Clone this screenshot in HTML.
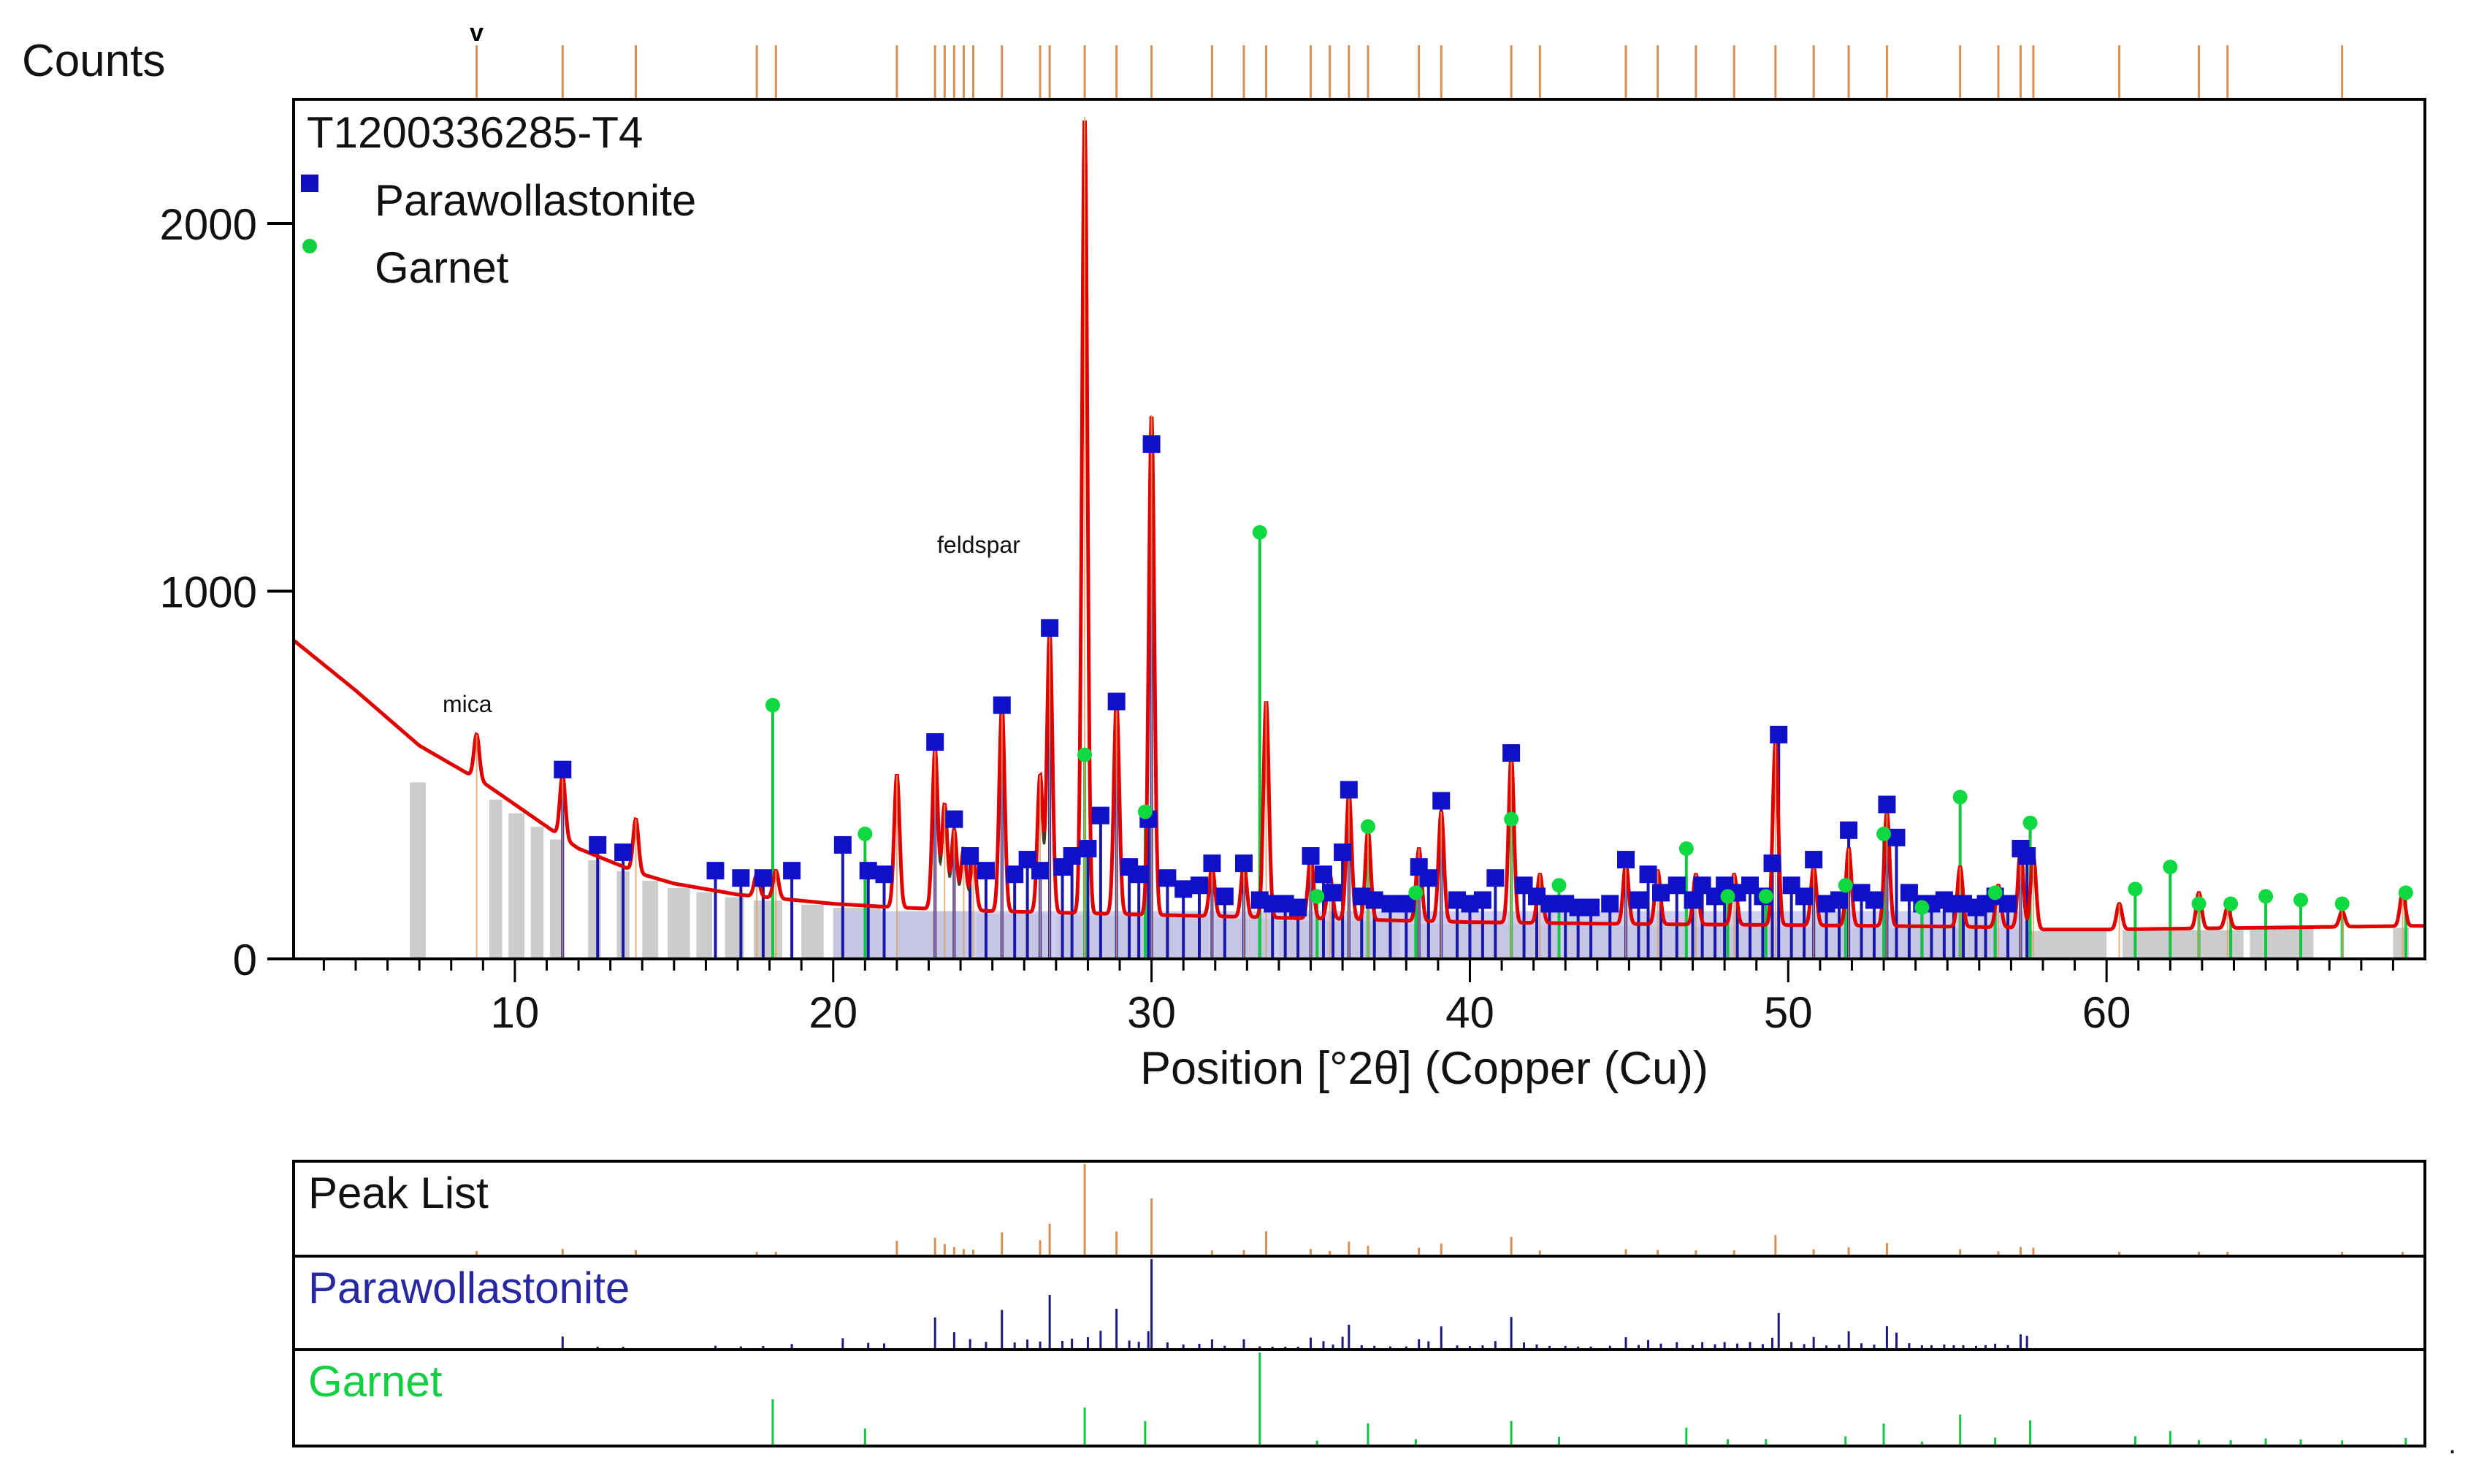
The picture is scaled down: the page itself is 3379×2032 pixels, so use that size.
<!DOCTYPE html>
<html><head><meta charset="utf-8"><style>
html,body{margin:0;padding:0;background:#fff;}
svg{display:block;font-family:"Liberation Sans",sans-serif;}
</style></head><body>
<svg id="chart" width="3379" height="2032" viewBox="0 0 3379 2032" xmlns="http://www.w3.org/2000/svg">
<rect x="0" y="0" width="3379" height="2032" fill="#fff"/>
<g id="marks"></g>
<text x="30" y="104" font-size="62" fill="#111">Counts</text>
<text x="420" y="202" font-size="60" fill="#111">T1200336285-T4</text>
<rect x="412" y="239" width="24" height="24" fill="#1010c0"/>
<text x="513" y="295" font-size="60" fill="#111">Parawollastonite</text>
<circle cx="424" cy="337" r="10" fill="#10d040"/>
<text x="513" y="387" font-size="60" fill="#111">Garnet</text>
<text x="606" y="975" font-size="32" fill="#111">mica</text>
<text x="1283" y="757" font-size="32" fill="#111">feldspar</text>
<text x="1950" y="1484" font-size="63" fill="#111" text-anchor="middle">Position [°2θ] (Copper (Cu))</text>
<text x="422" y="1654" font-size="60" fill="#111">Peak List</text>
<text x="422" y="1784" font-size="60" fill="#2828a0">Parawollastonite</text>
<text x="422" y="1912" font-size="60" fill="#10d040">Garnet</text>
<text x="3352" y="1990" font-size="40" fill="#111">.</text>
</svg>
<script>
// ---- data ----
const bgX = [3, 5, 7, 9, 10, 12, 14, 15, 17, 20, 22, 25, 30, 35, 40, 45, 50, 55, 57.5, 58, 60, 65, 70];
const bgY = [870, 730, 580, 480, 420, 300, 230, 205, 175, 150, 140, 130, 120, 110, 100, 95, 92, 88, 85, 80, 80, 85, 90];
const peakPos = [8.8, 11.5, 13.8, 17.6, 18.2, 22.0, 23.2, 23.5, 23.8, 24.1, 24.4, 25.3, 26.5, 26.8, 27.9, 28.9, 30.0, 31.9, 32.9, 33.6, 35.0, 35.6, 36.2, 36.8, 38.4, 39.1, 41.3, 42.2, 44.9, 45.9, 47.1, 48.3, 49.6, 50.8, 51.9, 53.1, 55.4, 56.6, 57.3, 57.7, 60.4, 62.9, 63.8, 67.4, 69.3];
const peakCounts = [610, 500, 380, 230, 240, 500, 570, 420, 350, 300, 280, 690, 500, 890, 2290, 700, 1480, 250, 260, 700, 280, 230, 450, 350, 300, 400, 550, 230, 260, 240, 230, 230, 590, 250, 300, 400, 250, 200, 300, 280, 150, 180, 140, 130, 180];
const paraPos = [11.5, 12.6, 13.4, 16.3, 17.1, 17.8, 18.7, 20.3, 21.1, 21.6, 23.2, 23.8, 24.3, 24.8, 25.3, 25.7, 26.1, 26.5, 26.8, 27.2, 27.5, 28.0, 28.4, 28.9, 29.3, 29.6, 29.9, 30.0, 30.5, 31.0, 31.5, 31.9, 32.3, 32.9, 33.4, 33.8, 34.2, 34.6, 35.0, 35.4, 35.7, 36.0, 36.2, 36.6, 37.0, 37.5, 38.0, 38.4, 38.7, 39.1, 39.6, 40.0, 40.4, 40.8, 41.3, 41.7, 42.1, 42.5, 43.0, 43.4, 43.8, 44.4, 44.9, 45.3, 45.6, 46.0, 46.5, 47.0, 47.3, 47.7, 48.0, 48.4, 48.8, 49.2, 49.5, 49.7, 50.1, 50.5, 50.8, 51.2, 51.6, 51.9, 52.3, 52.7, 53.1, 53.4, 53.8, 54.2, 54.5, 54.9, 55.2, 55.5, 55.9, 56.2, 56.5, 56.9, 57.3, 57.5];
const paraCounts = [515, 310, 290, 240, 220, 220, 240, 310, 240, 230, 590, 380, 280, 240, 690, 230, 270, 240, 900, 250, 280, 300, 390, 700, 250, 230, 380, 1400, 220, 190, 200, 260, 170, 260, 160, 150, 150, 140, 280, 230, 180, 290, 460, 170, 160, 150, 150, 250, 220, 430, 160, 150, 160, 220, 560, 200, 170, 150, 150, 140, 140, 150, 270, 160, 230, 180, 200, 160, 200, 170, 200, 180, 200, 170, 260, 610, 200, 170, 270, 150, 160, 350, 180, 160, 420, 330, 180, 150, 150, 160, 150, 150, 140, 150, 170, 150, 300, 280];
const garPos = [18.1, 21.0, 27.9, 29.8, 33.4, 35.2, 36.8, 38.3, 41.3, 42.8, 46.8, 48.1, 49.3, 51.8, 53.0, 54.2, 55.4, 56.5, 57.6, 60.9, 62.0, 62.9, 63.9, 65.0, 66.1, 67.4, 69.4];
const garCounts = [690, 340, 555, 400, 1160, 170, 360, 180, 380, 200, 300, 170, 170, 200, 340, 140, 440, 180, 370, 190, 250, 150, 150, 170, 160, 150, 180];
const greyStart = [6.7, 9.2, 9.8, 10.5, 11.1, 12.3, 13.2, 14.0, 14.8, 15.7, 16.6, 17.5, 19.0, 20.0, 22.0, 24.5, 27.0, 29.5, 32.0, 34.0, 38.0, 43.0, 47.0, 52.0, 57.5, 60.5, 64.5, 69.0];
const greyEnd = [7.2, 9.6, 10.3, 10.9, 11.5, 12.7, 13.6, 14.5, 15.5, 16.2, 17.2, 18.4, 19.7, 21.5, 24.2, 26.8, 29.3, 31.8, 33.8, 37.8, 42.8, 46.8, 51.8, 57.3, 60.0, 64.3, 66.5, 69.5];
const xTicks = [10, 20, 30, 40, 50, 60];
const yTicks = [0, 1000, 2000];

// ---- scales ----
const L = 402, R = 3320, T = 136, B = 1313;
const XMIN = 3.05, XMAX = 70;
const PX = (R - L) / (XMAX - XMIN);
function sx(v) { return L + (v - XMIN) * PX; }
function sy(v) { return 1313 - v * 0.5035; }
function bg(x) {
  for (let i = 0; i < bgX.length - 1; i++) {
    if (x <= bgX[i + 1]) { const t = (x - bgX[i]) / (bgX[i + 1] - bgX[i]); return bgY[i] + t * (bgY[i + 1] - bgY[i]); }
  }
  return bgY[bgY.length - 1];
}
const NS = "http://www.w3.org/2000/svg";
const g = document.getElementById('marks');
function mk(tag, attrs, parent) {
  const e = document.createElementNS(NS, tag);
  for (const k in attrs) e.setAttribute(k, attrs[k]);
  (parent || g).appendChild(e);
  return e;
}

// grey background bars
for (let i = 0; i < greyStart.length; i++) {
  const x1 = sx(greyStart[i]), x2 = sx(greyEnd[i]);
  const h = Math.min(bg((greyStart[i] + greyEnd[i]) / 2) * 0.95, 480);
  const r = mk('rect', { x: x1, y: sy(h), width: x2 - x1, height: B - sy(h), fill: '#cccccc' });
  
  
}
const band = mk('rect', { x: sx(20), y: sy(130), width: sx(57.5) - sx(20), height: B - sy(130), fill: '#c4c4ea', opacity: 0.8 });



for (let i = 0; i < paraPos.length; i++) {
  const l = mk('line', { x1: sx(paraPos[i]), x2: sx(paraPos[i]), y1: B, y2: sy(paraCounts[i]), stroke: '#1818a8', 'stroke-width': 4 });
  
  
}
for (let i = 0; i < garPos.length; i++) {
  const l = mk('line', { x1: sx(garPos[i]), x2: sx(garPos[i]), y1: B, y2: sy(garCounts[i]), stroke: '#10c840', 'stroke-width': 4 });
  
  
}

function profile(x) {
  let y = bg(x);
  for (let i = 0; i < peakPos.length; i++) {
    const h = peakCounts[i] - bg(peakPos[i]);
    const d = (x - peakPos[i]) / 0.12;
    y += h * Math.exp(-d * d);
  }
  return y;
}
let dObs = '', dFit = '';
for (let x = XMIN; x <= XMAX; x += 0.02) {
  const y = profile(x);
  dObs += (dObs ? 'L' : 'M') + sx(x).toFixed(1) + ',' + sy(y).toFixed(1);
  dFit += (dFit ? 'L' : 'M') + sx(x).toFixed(1) + ',' + sy(bg(x) + (y - bg(x)) * 0.85).toFixed(1);
}
const bgl = mk('path', { d: dFit, fill: 'none', stroke: '#404020', 'stroke-width': 3 });


const obs = mk('path', { d: dObs, fill: 'none', stroke: '#e00000', 'stroke-width': 5 });


for (let i = 0; i < peakPos.length; i++) {
  const l = mk('line', { x1: sx(peakPos[i]), x2: sx(peakPos[i]), y1: B, y2: sy(peakCounts[i]), stroke: '#e0a060', 'stroke-width': 2, opacity: 0.8 });
  
  
}

for (let i = 0; i < paraPos.length; i++) {
  const r = mk('rect', { x: sx(paraPos[i]) - 12, y: sy(paraCounts[i]) - 12, width: 24, height: 24, fill: '#1010c8' });
  
  
}
for (let i = 0; i < garPos.length; i++) {
  const c = mk('circle', { cx: sx(garPos[i]), cy: sy(garCounts[i]), r: 10, fill: '#10d840' });
  
  
}

for (let i = 0; i < peakPos.length - 1; i++) {
  const l = mk('line', { x1: sx(peakPos[i]), x2: sx(peakPos[i]), y1: 62, y2: T, stroke: '#d89050', 'stroke-width': 3 });
  
  
}
const vm = mk('text', { x: sx(peakPos[0]), y: 56, 'font-size': 34, 'font-weight': 'bold', 'text-anchor': 'middle', fill: '#000' });
vm.textContent = 'v';



const frame = mk('rect', { x: L, y: T, width: R - L, height: B - T, fill: 'none', stroke: '#000', 'stroke-width': 4 });



for (let v = 4; v <= 69; v++) {
  const major = v % 10 === 0;
  const l = mk('line', { x1: sx(v), x2: sx(v), y1: B, y2: B + (major ? 32 : 16), stroke: '#000', 'stroke-width': 3 });
  
  
}
for (let i = 0; i < xTicks.length; i++) {
  const t = mk('text', { x: sx(xTicks[i]), y: B + 94, 'font-size': 60, 'text-anchor': 'middle', fill: '#111' });
  t.textContent = xTicks[i];
  
  
}
for (let i = 0; i < yTicks.length; i++) {
  const l = mk('line', { x1: L - 36, x2: L, y1: sy(yTicks[i]), y2: sy(yTicks[i]), stroke: '#000', 'stroke-width': 4 });
  
  
  const t = mk('text', { x: L - 50, y: sy(yTicks[i]) + 22, 'font-size': 60, 'text-anchor': 'end', fill: '#111' });
  t.textContent = yTicks[i];
  
  
}

const P1 = 1590, P2 = 1720, P3 = 1848, P4 = 1980;
const pmax = Math.max(...peakCounts.map((c, i) => c - bg(peakPos[i])));
for (let i = 0; i < peakPos.length; i++) {
  const h = (peakCounts[i] - bg(peakPos[i])) / pmax * (P2 - P1 - 4);
  const l = mk('line', { x1: sx(peakPos[i]), x2: sx(peakPos[i]), y1: P2, y2: P2 - Math.max(h, 6), stroke: '#d89050', 'stroke-width': 3 });
  
  
}
const paraMax = Math.max(...paraCounts.map((c, i) => c - bg(paraPos[i])));
for (let i = 0; i < paraPos.length; i++) {
  const h = (paraCounts[i] - bg(paraPos[i])) / paraMax * (P3 - P2 - 4);
  const l = mk('line', { x1: sx(paraPos[i]), x2: sx(paraPos[i]), y1: P3, y2: P3 - Math.max(h, 4), stroke: '#1a1a80', 'stroke-width': 3 });
  
  
}
const garMax = Math.max(...garCounts.map((c, i) => c - bg(garPos[i])));
for (let i = 0; i < garPos.length; i++) {
  const h = (garCounts[i] - bg(garPos[i])) / garMax * (P4 - P3 - 4);
  const l = mk('line', { x1: sx(garPos[i]), x2: sx(garPos[i]), y1: P4, y2: P4 - Math.max(h, 4), stroke: '#10c840', 'stroke-width': 3 });
  
  
}
const pf = mk('rect', { x: L, y: P1, width: R - L, height: P4 - P1, fill: 'none', stroke: '#000', 'stroke-width': 4 });


for (const yy of [P2, P3]) {
  const l = mk('line', { x1: L, x2: R, y1: yy, y2: yy, stroke: '#000', 'stroke-width': 4 });
  
  
}
</script>
</body></html>
